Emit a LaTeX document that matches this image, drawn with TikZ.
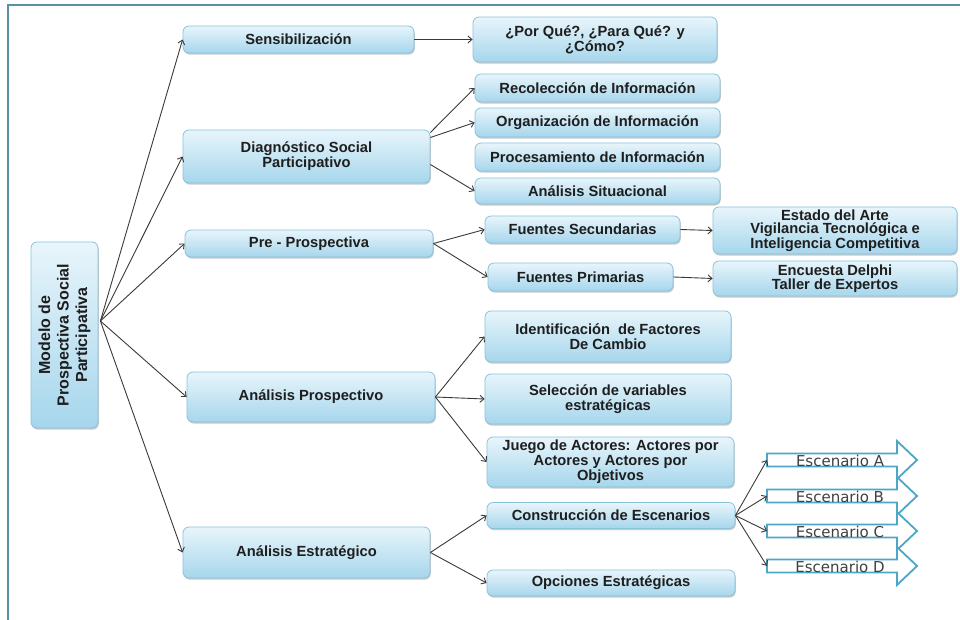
\documentclass[tikz,border=0pt]{standalone}
\usepackage{fontspec}
\setmainfont{Liberation Sans}
\newfontfamily\scenfont{DejaVu Sans}
\usetikzlibrary{arrows.meta,shadows,calc}
\definecolor{boxtop}{HTML}{E8F5FB}
\definecolor{boxbot}{HTML}{A6D6EC}
\definecolor{boxedge}{HTML}{8AC3DC}
\definecolor{framecol}{HTML}{5A90A2}
\definecolor{scencol}{HTML}{4BA6C8}
\definecolor{inkcol}{HTML}{1E1E1E}
\definecolor{linkcol}{HTML}{3A3A3A}
\tikzset{
  box/.style={draw=boxedge, line width=0.8pt, rounded corners=6pt,
    top color=boxtop, bottom color=boxbot,
    drop shadow={shadow xshift=0.8pt, shadow yshift=-1.6pt, opacity=0.35, fill=black!60},
    text=inkcol, align=center, inner sep=2pt,
    font=\fontsize{14.7}{15}\selectfont\bfseries},
  link/.style={draw=linkcol, line width=0.9pt, -{Straight Barb[length=4pt,width=7pt]}},
  scenarrow/.style={draw=scencol, line width=1.8pt, fill=white, line join=miter},
  scentext/.style={text=black!75, font=\scenfont\fontsize{15}{15}\selectfont, inner sep=0pt},
  framestyle/.style={draw=framecol, line width=2pt}
}
\begin{document}
\begin{tikzpicture}[x=1pt,y=-1pt]
\useasboundingbox (0,0) rectangle (960,620);
\fill[white] (0,0) rectangle (960,620);
\draw[framestyle] (8,620) -- (8,5) -- (960,5);

% root
\node[box, rotate=90, minimum width=186pt, minimum height=67pt,
      font=\fontsize{16}{18.5}\selectfont\bfseries] (root) at (64.5,335)
      {Modelo de\\Prospectiva Social\\Participativa};
\coordinate (hub) at ($(root.south)+(2,-14)$);

% level 1
\node[box, minimum width=231pt, minimum height=27pt] (sens) at (298.5,39.5) {Sensibilización};
\node[box, minimum width=247pt, minimum height=53pt] (diag) at (306.5,156.5) {Diagnóstico Social\\Participativo};
\node[box, minimum width=248pt, minimum height=27pt] (pre) at (309,243.5) {Pre - Prospectiva};
\node[box, minimum width=248pt, minimum height=50pt] (aprosp) at (311,397) {Análisis Prospectivo};
\node[box, minimum width=247pt, minimum height=51pt] (aestr) at (306.5,552.5) {Análisis Estratégico};

% level 2
\node[box, minimum width=244pt, minimum height=45pt] (por) at (595,39.5) {¿Por Qué?, ¿Para Qué? y\\¿Cómo?};
\node[box, minimum width=245pt, minimum height=28pt] (rec) at (597.5,88) {Recolección de Información};
\node[box, minimum width=245pt, minimum height=29pt] (org) at (597.5,122.5) {Organización de Información};
\node[box, minimum width=245pt, minimum height=28pt] (proc) at (597.5,157) {Procesamiento de Información};
\node[box, minimum width=245pt, minimum height=26pt] (sit) at (597.5,191) {Análisis Situacional};
\node[box, minimum width=195pt, minimum height=27pt] (fsec) at (582.5,229.5) {Fuentes Secundarias};
\node[box, minimum width=185pt, minimum height=28pt] (fprim) at (580.5,277) {Fuentes Primarias};
\node[box, minimum width=244pt, minimum height=47pt, font=\fontsize{14.7}{13.5}\selectfont\bfseries] (estado) at (835,230.5) {Estado del Arte\\Vigilancia Tecnológica e\\Inteligencia Competitiva};
\node[box, minimum width=244pt, minimum height=35pt, font=\fontsize{14.7}{14}\selectfont\bfseries] (encu) at (835,278.5) {Encuesta Delphi\\Taller de Expertos};
\node[box, minimum width=246pt, minimum height=51pt] (ident) at (608,336.5) {Identificación~ de Factores\\De Cambio};
\node[box, minimum width=246pt, minimum height=50pt] (sel) at (608,399) {Selección de variables\\estratégicas};
\node[box, minimum width=247pt, minimum height=50pt] (juego) at (610.5,462) {Juego de Actores: Actores por\\Actores y Actores por\\Objetivos};
\node[box, minimum width=248pt, minimum height=26pt] (cons) at (611,515.5) {Construcción de Escenarios};
\node[box, minimum width=248pt, minimum height=26pt] (opc) at (611,583) {Opciones Estratégicas};

% scenario arrows
\foreach \n/\t in {A/460,B/496,C/531,D/566}{
  \draw[scenarrow] (767,\t-6.5) -- (897,\t-6.5) -- (897,\t-19) -- (917,\t)
     -- (897,\t+19) -- (897,\t+6.5) -- (767,\t+6.5) -- cycle;
  \coordinate (sc\n) at (767,\t);
}
\foreach \n/\t in {A/460,B/496,C/531,D/566}{
  \node[scentext] (st\n) at (840,\t+0.5) {Escenario \n};
}

% connectors from root
\draw[link] (hub) -- (sens.west);
\draw[link] (hub) -- (diag.west);
\draw[link] (hub) -- (pre.west);
\draw[link] (hub) -- (aprosp.west);
\draw[link] (hub) -- (aestr.west);

\draw[link] (sens.east) -- (por.west);
\draw[link] ($(diag.east)+(0,-24)$) -- (rec.west);
\draw[link] ($(diag.east)+(0,-19)$) -- (org.west);
\draw[link] ($(diag.east)+(0,8)$) -- (sit.west);
\draw[link] (pre.east) -- (fsec.west);
\draw[link] (pre.east) -- (fprim.west);
\draw[link] (fsec.east) -- (estado.west);
\draw[link] (fprim.east) -- (encu.west);
\draw[link] (aprosp.east) -- (ident.west);
\draw[link] (aprosp.east) -- (sel.west);
\draw[link] (aprosp.east) -- (juego.west);
\draw[link] (aestr.east) -- (cons.west);
\draw[link] (aestr.east) -- (opc.west);
\foreach \n in {A,B,C,D}{
  \draw[link] (cons.east) -- (sc\n);
}
\end{tikzpicture}
\end{document}
